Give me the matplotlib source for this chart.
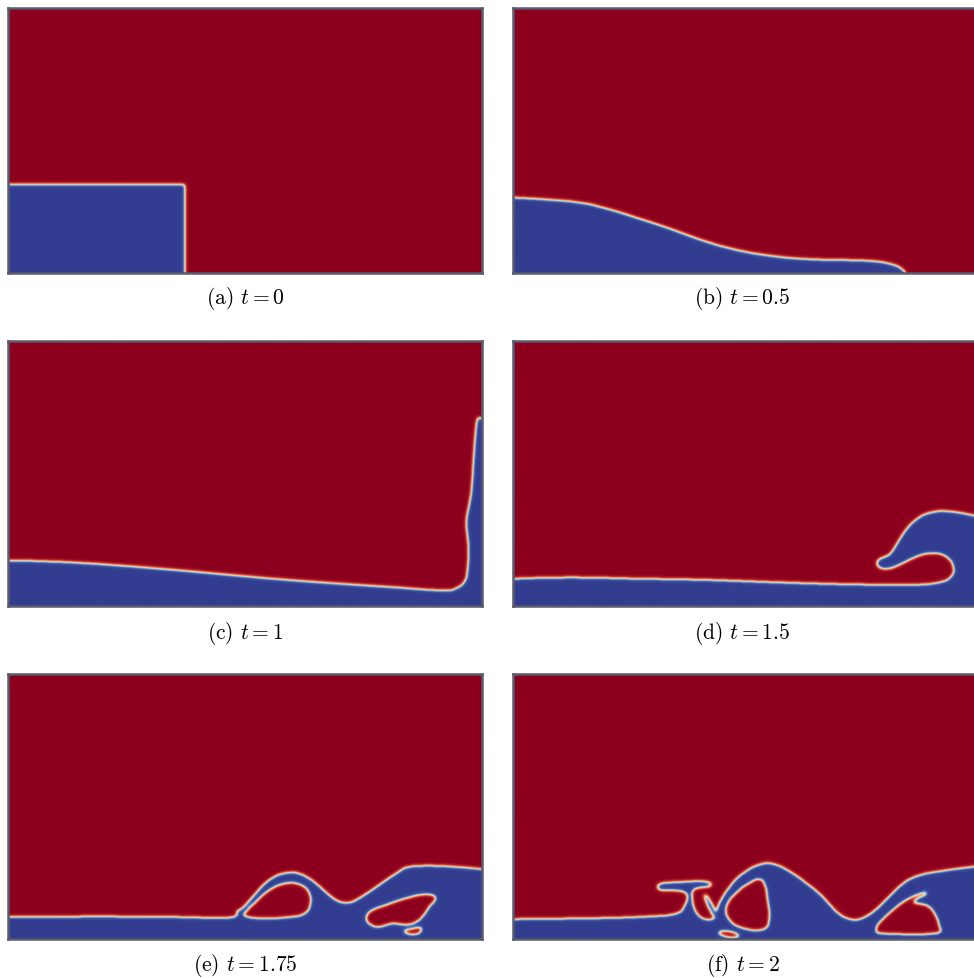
import numpy as np
import matplotlib
matplotlib.use("Agg")
import matplotlib.pyplot as plt
from matplotlib.path import Path
from matplotlib.colors import LinearSegmentedColormap

plt.rcParams['mathtext.fontset'] = 'cm'

# tank size (m)
L, H = 3.22, 1.8

# free surface of the water, read from left wall to the right / bottom
a_x = [0.0, 1.2, 1.2]
a_y = [0.6, 0.6, 0.0]

b_x = [0.0, 0.386, 0.612, 0.837, 1.068, 1.293, 1.517, 1.748, 1.973, 2.197, 2.429, 2.565, 2.633, 2.667]
b_y = [0.510, 0.485, 0.442, 0.374, 0.299, 0.218, 0.156, 0.116, 0.095, 0.088, 0.082, 0.061, 0.034, 0.0]

c_x = [0.0, 0.393, 0.844, 1.299, 1.753, 2.204, 2.660, 2.952, 3.046, 3.102, 3.122, 3.129, 3.114,
       3.122, 3.148, 3.163, 3.177, 3.188, 3.201, 3.22]
c_y = [0.308, 0.297, 0.267, 0.229, 0.188, 0.154, 0.124, 0.104, 0.120, 0.165, 0.245, 0.403, 0.539,
       0.631, 0.767, 0.993, 1.175, 1.261, 1.276, 1.265]

d_x = [0.0, 0.393, 0.844, 1.299, 1.753, 2.204, 2.544, 2.739, 2.898, 2.978, 2.993, 2.944, 2.852,
       2.739, 2.626, 2.524, 2.469, 2.501, 2.558, 2.612, 2.671, 2.739, 2.830, 2.966, 3.129, 3.22]
d_y = [0.184, 0.193, 0.184, 0.177, 0.161, 0.148, 0.143, 0.143, 0.159, 0.199, 0.267, 0.335, 0.359,
       0.335, 0.279, 0.250, 0.286, 0.324, 0.347, 0.427, 0.517, 0.585, 0.631, 0.641, 0.612, 0.598]

e_x = [0.0, 0.619, 1.163, 1.526, 1.549, 1.594, 1.685, 1.776, 1.889, 2.002, 2.116, 2.206, 2.297,
       2.388, 2.524, 2.660, 2.750, 2.978, 3.204, 3.22]
e_y = [0.148, 0.152, 0.148, 0.145, 0.186, 0.209, 0.311, 0.401, 0.447, 0.435, 0.356, 0.277, 0.243,
       0.277, 0.367, 0.458, 0.492, 0.492, 0.474, 0.473]
# air trapped under the breaking wave
e_pockets = [
    ([1.605, 1.730, 1.912, 2.014, 2.054, 2.048, 1.991, 1.889, 1.776, 1.685, 1.617],
     [0.156, 0.138, 0.148, 0.170, 0.231, 0.311, 0.367, 0.379, 0.333, 0.254, 0.186]),
    ([2.433, 2.456, 2.569, 2.705, 2.841, 2.910, 2.864, 2.796, 2.705, 2.614, 2.524, 2.467],
     [0.129, 0.186, 0.231, 0.277, 0.304, 0.277, 0.220, 0.129, 0.095, 0.107, 0.080, 0.095]),
    ([2.687, 2.750, 2.807, 2.796, 2.728],
     [0.056, 0.070, 0.080, 0.039, 0.032]),
]

f_x = [0.0, 0.585, 0.925, 1.107, 1.163, 1.184, 1.088, 1.007, 0.980, 1.014, 1.122, 1.259, 1.340,
       1.333, 1.231, 1.218, 1.238, 1.293, 1.361, 1.379, 1.401, 1.492, 1.583, 1.673, 1.764, 1.878,
       1.991, 2.102, 2.195, 2.286, 2.376, 2.490, 2.626, 2.739, 2.898, 3.122, 3.22]
f_y = [0.134, 0.141, 0.152, 0.170, 0.218, 0.306, 0.330, 0.330, 0.354, 0.378, 0.384, 0.391, 0.381,
       0.354, 0.340, 0.272, 0.190, 0.136, 0.136, 0.163, 0.243, 0.379, 0.458, 0.503, 0.510, 0.458,
       0.379, 0.288, 0.186, 0.134, 0.141, 0.220, 0.356, 0.424, 0.458, 0.488, 0.497]
f_drops = [
    ([1.299, 1.323, 1.381, 1.357], [0.286, 0.286, 0.170, 0.160]),
]
f_pockets = [
    ([1.469, 1.447, 1.515, 1.605, 1.696, 1.730, 1.741, 1.696, 1.560],
     [0.129, 0.220, 0.311, 0.379, 0.401, 0.265, 0.129, 0.061, 0.073]),
    ([1.395, 1.463, 1.537, 1.510, 1.429], [0.048, 0.054, 0.027, 0.010, 0.020]),
    ([2.467, 2.485, 2.580, 2.671, 2.762, 2.807, 2.803, 2.739, 2.728, 2.807, 2.864, 2.898, 2.886,
      2.671, 2.490],
     [0.061, 0.107, 0.197, 0.265, 0.306, 0.318, 0.299, 0.270, 0.243, 0.231, 0.175, 0.084, 0.039,
      0.032, 0.039]),
]

captions = ['(a) $t = 0$', '(b) $t = 0.5$', '(c) $t = 1$',
            '(d) $t = 1.5$', '(e) $t = 1.75$', '(f) $t = 2$']

# surface x, surface y, drawn as a smooth curve?, detached drops, air pockets
panels = [
    (a_x, a_y, False, [], []),
    (b_x, b_y, True, [], []),
    (c_x, c_y, True, [], []),
    (d_x, d_y, True, [], []),
    (e_x, e_y, True, [], e_pockets),
    (f_x, f_y, True, f_drops, f_pockets),
]

cmap = LinearSegmentedColormap.from_list(
    'phase', ['#323d90', '#3f5aa6', '#8db5dc', '#efe6c2', '#f29a68', '#c8302c', '#8c001e'])

nx, ny = 946, 529
gx = (np.arange(nx) + 0.5) / nx * L
gy = (np.arange(ny) + 0.5) / ny * H
X, Y = np.meshgrid(gx, gy)
pts = np.column_stack([X.ravel(), Y.ravel()])


def curve(xs, ys, closed, smooth_it=True):
    # Catmull-Rom through the read points, as cubic bezier segments
    P = np.column_stack([xs, ys]).astype(float)
    n = len(P)
    verts = [P[0]]
    codes = [Path.MOVETO]
    nseg = n if closed else n - 1
    for i in range(nseg):
        p1 = P[i]
        p2 = P[(i + 1) % n]
        if not smooth_it:
            verts.append(p2)
            codes.append(Path.LINETO)
            continue
        p0 = P[i - 1] if (closed or i > 0) else P[i]
        p3 = P[(i + 2) % n] if (closed or i + 2 < n) else P[i + 1]
        verts += [p1 + (p2 - p0) / 6, p2 - (p3 - p1) / 6, p2]
        codes += [Path.CURVE4] * 3
    return verts, codes


def inside(verts, codes):
    return Path(np.array(verts), codes).contains_points(pts).reshape(ny, nx)


def water_mask(sx, sy, smooth_it):
    m = 0.05
    verts, codes = curve(sx, sy, False, smooth_it)
    last = verts[-1]
    tail = []
    if last[0] >= L:
        tail.append((L + m, last[1]))
        last = tail[-1]
    tail += [(last[0], -m), (-m, -m), (-m, sy[0]), (sx[0], sy[0])]
    verts = list(verts) + tail
    codes = list(codes) + [Path.LINETO] * len(tail)
    return inside(verts, codes)


def pocket_mask(px, py):
    verts, codes = curve(px, py, True)
    return inside(verts, codes)


def blur(f, s):
    r = int(3 * s) + 1
    k = np.exp(-0.5 * (np.arange(-r, r + 1) / s) ** 2)
    k /= k.sum()
    g = np.pad(f, r, mode='edge')
    g = np.apply_along_axis(lambda v: np.convolve(v, k, 'valid'), 0, g)
    g = np.apply_along_axis(lambda v: np.convolve(v, k, 'valid'), 1, g)
    return g


fig = plt.figure(figsize=(9.74, 9.79), dpi=100)

lefts = [0.0087, 0.5267]
bottoms = [0.7206, 0.3800, 0.0398]
w, h = 0.4861, 0.2707
cap_x = [0.2515, 0.7625]
cap_y = [0.6956, 0.3534, 0.0143]

for i, (sx, sy, smooth_it, drops, pockets) in enumerate(panels):
    row, col = divmod(i, 2)
    ax = fig.add_axes([lefts[col], bottoms[row], w, h])

    water = water_mask(sx, sy, smooth_it)
    for px, py in drops:
        water |= pocket_mask(px, py)
    for px, py in pockets:
        water &= ~pocket_mask(px, py)
    phi = blur(1.0 - water.astype(float), 3.6)

    ax.imshow(phi, extent=(0, L, 0, H), origin='lower', cmap=cmap, vmin=0, vmax=1,
              aspect='auto', interpolation='bilinear')
    ax.set_xlim(0, L)
    ax.set_ylim(0, H)
    ax.set_xticks([])
    ax.set_yticks([])
    for sp in ax.spines.values():
        sp.set_color('#585b6e')
        sp.set_linewidth(1.8)

    fig.text(cap_x[col], cap_y[row], captions[i], ha='center', va='center',
             fontsize=15.5, fontname='cmr10')

fig.savefig('out.png', dpi=100)
